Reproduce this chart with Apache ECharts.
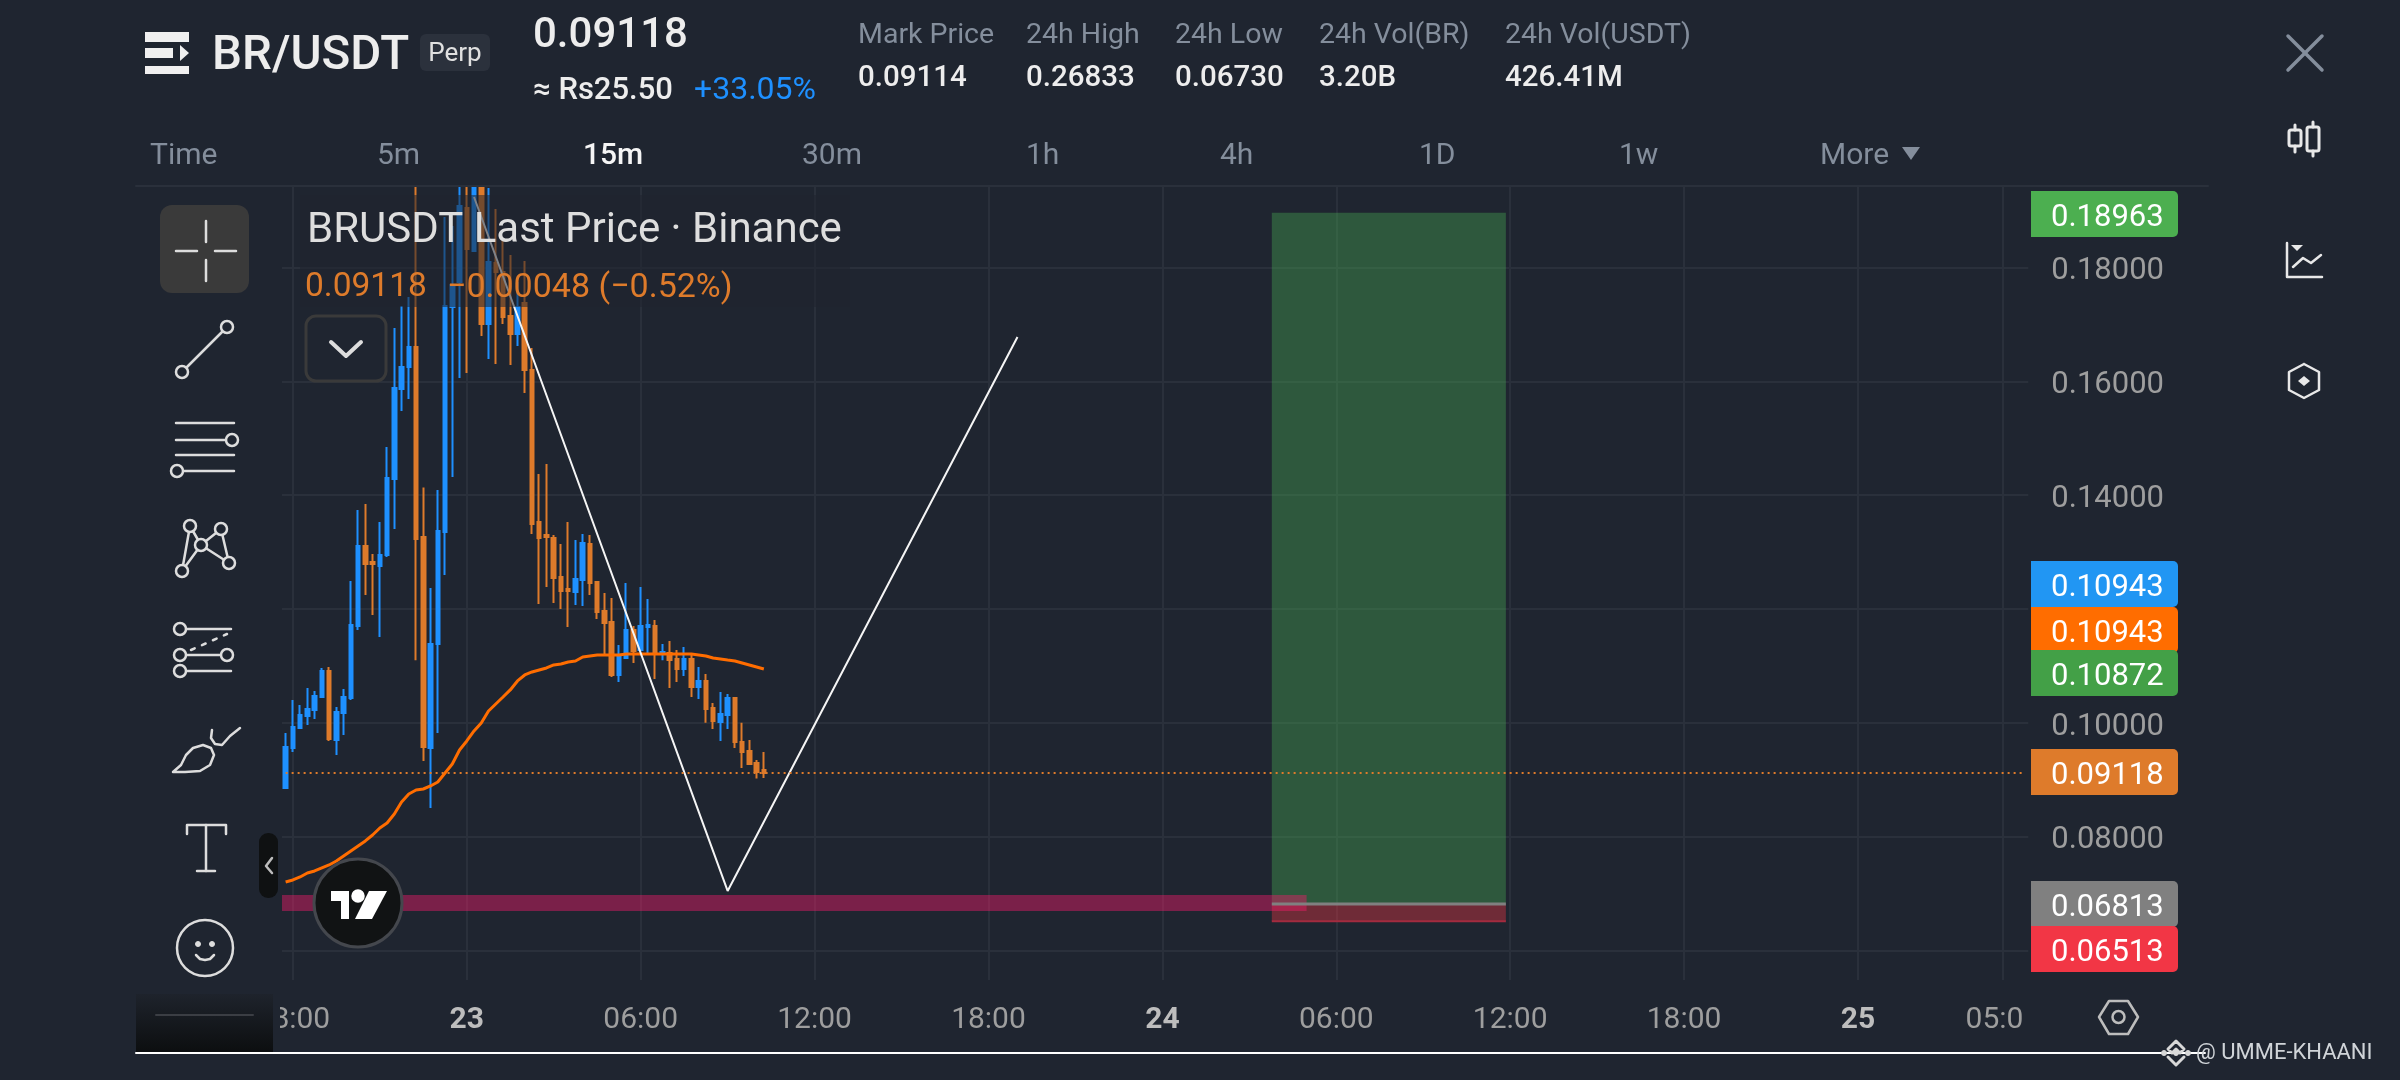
<!DOCTYPE html>
<html><head><meta charset="utf-8">
<style>html,body{margin:0;padding:0;background:#1F2530}#c{width:2400px;height:1080px}</style>
<script src="https://cdn.jsdelivr.net/npm/echarts@6/dist/echarts.min.js"></script>
</head><body><div id="c"></div>
<script>
// 15m candles, oldest first
const opens=[.08854,.09557,.09909,.10119,.10225,.10453,.10910,.09698,.10172,.10436,.11701,.13107,.12826,.12756,.12949,.14285,.15866,.16253,.16604,.13265,.09557,.11385,.13353,.17307,.17747,.19047,.18292,.205,.17009,.18081,.17923,.17149,.16833,.17378,.16200,.13529,.13301,.13248,.12563,.12351,.12299,.12510,.13142,.12474,.11965,.11771,.10840,.11139,.11631,.11279,.11684,.11701,.11209,.11226,.11121,.10945,.11121,.10629,.10734,.10260,.10014,.10137,.10436,.09663,.09504,.09294,.09170];
const closes=[.09574,.09926,.10137,.10243,.10471,.10910,.09715,.10190,.10453,.11719,.13107,.12791,.12791,.12949,.14302,.15884,.16253,.16604,.13230,.09574,.11385,.13371,.17325,.17694,.19083,.18327,.205,.17009,.18098,.17923,.17132,.16833,.17307,.16200,.13494,.13248,.13265,.12545,.12316,.12316,.12527,.13160,.12457,.11947,.11754,.10840,.11156,.11631,.11262,.11701,.11719,.11226,.11244,.11103,.10945,.11121,.10629,.10734,.10243,.10032,.10155,.10436,.09663,.09487,.09276,.09135,.09118];
const lows=[.08854,.09487,.09891,.09961,.10067,.10453,.09680,.09434,.09786,.10401,.11631,.12246,.11894,.11508,.12914,.13406,.15480,.15691,.11098,.09328,.08503,.09821,.12598,.14320,.16060,.16148,.18292,.16798,.16394,.16306,.17009,.16288,.16622,.15796,.13318,.12088,.12386,.12105,.12000,.11684,.12070,.12053,.12246,.11824,.11192,.10805,.10717,.11139,.11051,.11279,.11192,.10770,.11098,.10612,.10717,.10823,.10453,.10418,.10000,.09891,.09680,.09891,.09557,.09206,.09258,.09020,.09030];
const highs=[.09821,.10401,.10313,.10611,.10559,.10963,.10981,.10278,.10594,.12492,.13740,.13845,.12967,.13529,.14847,.16939,.17325,.17483,.205,.14133,.12369,.14091,.18889,.18731,.205,.205,.21,.21,.19399,.19030,.18485,.18221,.17747,.18116,.16587,.14372,.14548,.13301,.13142,.13529,.13213,.13318,.13301,.12474,.12281,.12193,.11367,.12457,.11701,.12386,.12176,.11807,.11385,.11437,.11279,.11332,.11192,.10981,.10858,.10348,.10541,.10506,.10453,.10000,.09698,.09346,.09487];
const maValues=[.07202,.07237,.07290,.07360,.07395,.07448,.07501,.07571,.07659,.07747,.07835,.07923,.08028,.08151,.08239,.08397,.08608,.08749,.08819,.08836,.08889,.08959,.09118,.09276,.09522,.09680,.09856,.09997,.10207,.10330,.10453,.10577,.10735,.10840,.10893,.10928,.10963,.11016,.11033,.11068,.11086,.11156,.11174,.11192,.11192,.11192,.11192,.11209,.11209,.11209,.11209,.11209,.11209,.11209,.11209,.11209,.11209,.11192,.11174,.11139,.11121,.11103,.11086,.11051,.11016,.10981,.10945];
const drawnLine=[[26.4,.19241],[60.9,.07044],[101.1,.16780]];
const lastPrice=.09118, targetPrice=.18963, entryPrice=.06813, stopPrice=.06513;
const zoneStart=136.1, zoneEnd=168.4;
const barStart=-0.5, barEnd=140.9, barTop=.06973, barBottom=.06692;
const yTicks=[.06,.08,.10,.12,.14,.16,.18];
const tickSlots=[1,25,49,73,97,121,145,169,193,217,237];
const tickLabels=['18:00','23','06:00','12:00','18:00','24','06:00','12:00','18:00','25','05:00'];
const slotCount=241;
const tagValues=['0.18963','0.10943','0.10943','0.10872','0.09118','0.06813','0.06513'];
const tagColors=['#4CAF50','#2196F3','#FF6D00','#43A047','#DE7B2B','#808080','#F23645'];
const statNames=['Mark Price','24h High','24h Low','24h Vol(BR)','24h Vol(USDT)'];
const statValues=['0.09114','0.26833','0.06730','3.20B','426.41M'];
const timeframes=['Time','5m','15m','30m','1h','4h','1D','1w','More'];
const zoneBoxes=[[zoneStart,zoneEnd,targetPrice,entryPrice],[zoneStart,zoneEnd,entryPrice,stopPrice],[barStart,barEnd,barTop,barBottom]];
const zoneEdges=[[zoneStart,zoneEnd,entryPrice],[zoneStart,zoneEnd,stopPrice]];

const categories=[];for(let i=0;i<slotCount;i++)categories.push('s'+i);
const candles=opens.map((o,i)=>[o,closes[i],lows[i],highs[i]]);
const labelAt={};tickSlots.forEach((s,i)=>labelAt[s]=tickLabels[i]);
const isTick=i=>labelAt[i]!==undefined;

const FF='Roboto';
const BG='#1F2530',ICON='#DDDDDD',GRID='#2A303B',GREY='#848E9C';
const boxColors=['rgba(76,180,85,0.36)','rgba(242,54,69,0.38)','rgba(238,28,105,0.44)'];
const edgeStyles=[{color:'#808080',w:3},{color:'#A32B3F',w:2}];
const g=[];
function T(text,x,y,size,fill,weight,z,align){g.push({type:'text',z:z||120,x:x,y:y+4,style:{text:text,fill:fill,font:(weight||400)+' '+size+'px '+FF+', sans-serif',textAlign:align||'left',textVerticalAlign:'middle',align:align||'left',verticalAlign:'middle'}});}
function R(x,y,w,h,fill,r,z,stroke,lw){g.push({type:'rect',z:z||110,shape:{x:x,y:y,width:w,height:h,r:r||0},style:{fill:fill,stroke:stroke||null,lineWidth:lw||0}});}
function P(points,stroke,lw,z,fill,dash){g.push({type:fill?'polygon':'polyline',z:z||120,shape:{points:points},style:{stroke:fill?null:(stroke||ICON),lineWidth:lw||2.5,fill:fill||null,lineDash:dash||null,lineCap:'round',lineJoin:'round'}});}
function C(cx,cy,r,stroke,lw,z,fill){g.push({type:'circle',z:z||121,shape:{cx:cx,cy:cy,r:r},style:{stroke:stroke||ICON,lineWidth:lw||2.5,fill:fill||BG}});}

// masks that clip candles, axis labels and the top rule
R(278,0,1760,185,BG,0,100);
R(136,985,144,66,BG,0,105);
R(2024,985,68,66,BG,0,105);
P([[136,186],[2208,186]],GRID,2,106);

// dimmed legend panel
R(300,195,550,112,'rgba(31,37,48,0.55)',0,90);
T('BRUSDT Last Price · Binance',307,227,42,'#DEDEDE',400);
T('0.09118',305,284,33.5,'#DE7B2B',400);
T('−0.00048 (−0.52%)',447,284,34,'#DE7B2B',400);
R(306,316,80,65,'rgba(0,0,0,0)',10,112,'#3A3A3A',3);
P([[331,342],[346,356],[361,342]],'#DDDDDD',4);

// header
R(145,32,44,10,'#F0F0F0',0,120);R(145,48,28,10,'#F0F0F0',0,120);R(145,66,44,8,'#F0F0F0',0,120);
P([[180,45],[189,53],[180,61]],null,0,120,'#F0F0F0');
T('BR/USDT',212,53,47.5,'#EDEDED',500);
R(420,34,70,37,'#2B313C',6,112);
T('Perp',455,50,26,'#E0E0E0',400,120,'center');
T('0.09118',533,32,42,'#EDEDED',500);
T('≈ Rs25.50',533,87,31,'#EDEDED',500);
T('+33.05%',694,87,32,'#1E90FF',400);
const statX=[858,1026,1175,1319,1505];
statNames.forEach((n,i)=>{T(n,statX[i],32,28.5,GREY,400);T(statValues[i],statX[i],75,29.5,'#EDEDED',500);});
const tfX=[150,377,583,802,1026,1220,1419,1619,1820];
timeframes.forEach((n,i)=>T(n,tfX[i],152,30,i===2?'#F5F5F5':GREY,i===2?500:400));
P([[1902,147],[1920,147],[1911,160]],null,0,120,GREY);

// right icons
P([[2288,36],[2322,70]],GREY,3.5);P([[2322,36],[2288,70]],GREY,3.5);
R(2289,130,12,16,'rgba(0,0,0,0)',2,120,'#E8E8E8',3);P([[2295,125],[2295,130]],'#E8E8E8',3);P([[2295,146],[2295,152]],'#E8E8E8',3);
R(2307,127,12,24,'rgba(0,0,0,0)',2,120,'#E8E8E8',3);P([[2313,122],[2313,127]],'#E8E8E8',3);P([[2313,151],[2313,156]],'#E8E8E8',3);
P([[2287,243],[2287,277],[2322,277]],'#E8E8E8',2.5);P([[2293,267],[2303,258],[2311,263],[2321,255]],'#E8E8E8',2.5);
P([[2291,245],[2303,245],[2297,251]],null,0,120,'#E8E8E8');
P([[2304,364],[2319,372],[2319,390],[2304,398],[2289,390],[2289,372],[2304,364]],'#E8E8E8',2.5);
P([[2304,376],[2310,381],[2304,386],[2298,381]],null,0,120,'#E8E8E8');
P([[2099,1017],[2109,1001],[2128,1001],[2138,1017],[2128,1034],[2109,1034],[2099,1017]],'#BDBDBD',2.5);
C(2118.5,1017,6,'#BDBDBD',2.5);

// left toolbar
R(160,205,89,88,'#3A3A3A',12,112);
P([[176,251],[197,251]]);P([[215,251],[236,251]]);P([[206,221],[206,242]]);P([[206,260],[206,281]]);
P([[182,372],[227,327]]);C(182,372,6);C(227,327,6);
P([[176,423],[234,423]]);P([[176,440],[232,440]]);P([[176,455],[234,455]]);P([[177,471],[234,471]]);C(232,440,6);C(177,471,6);
P([[182,571],[190,526]]);P([[190,526],[201,545]]);P([[201,545],[221,529]]);P([[221,529],[229,563]]);P([[201,545],[229,563]]);P([[182,571],[201,545]]);
C(190,526,6);C(221,529,6);C(201,545,6);C(182,571,6);C(229,563,6);
P([[180,629],[231,629]]);P([[180,655],[227,655]]);P([[180,671],[231,671]]);P([[191,650],[227,634]],ICON,2.5,120,null,[4,8]);
C(180,629,6);C(180,655,6);C(227,655,6);C(180,671,6);
P([[173,772],[181,765],[186,755],[193,748],[203,745],[211,748],[214,755],[210,765],[200,771],[185,772],[173,772]]);
P([[212,730],[211,738],[215,744],[222,745],[230,736],[240,728]]);
P([[187,834],[187,825],[226,825],[226,834]]);P([[206,825],[206,871]]);P([[197,871],[215,871]]);
C(205,948,28);C(198,944,2.5,ICON,1,122,ICON);C(212,944,2.5,ICON,1,122,ICON);
P([[196,955],[200,959],[205,960],[210,959],[214,955]],ICON,2.5,123);
R(259,833,19,65,'#0F1112',9,112);P([[272,858],[266,866],[272,873]],'#BDBDBD',2.5);

// TradingView badge
C(358,903,44,'#44474D',3,115,'#111314');
R(331,891,18,10,'#FFFFFF',0,120);R(341,891,8,28,'#FFFFFF',0,120);C(358,896,5.5,'#FFFFFF',0,121,'#FFFFFF');
P([[369,891],[387,891],[372,919],[355,919]],null,0,120,'#FFFFFF');

// bottom strip
g.push({type:'rect',z:110,shape:{x:136,y:994,width:137,height:59},style:{fill:new echarts.graphic.LinearGradient(0,0,0,1,[{offset:0,color:'#1E232C'},{offset:1,color:'#0C0E0F'}])}});
P([[156,1015],[253,1015]],'#3B3E44',2,112);
P([[136,1053],[2205,1053]],'#FFFFFF',2,118);
P([[2176,1041],[2184,1049],[2180,1053],[2176,1049],[2172,1053],[2168,1049],[2176,1041]],'#D8D8D8',3,122);
P([[2168,1057],[2176,1065],[2184,1057]],'#D8D8D8',3,122);
C(2176,1053,2.5,'#D8D8D8',1,122,'#D8D8D8');C(2164,1053,2.5,'#D8D8D8',1,122,'#D8D8D8');C(2188,1053,2.5,'#D8D8D8',1,122,'#D8D8D8');
T('@ UMME-KHAANI',2196,1049,22,'#D0D4D8',400,122);

// price tags
const tagY=[214,584,630,673,772,904,949];
tagValues.forEach((v,i)=>{g.push({type:'rect',z:115,shape:{x:2031,y:tagY[i]-23,width:147,height:46,r:[0,5,5,0]},style:{fill:tagColors[i]}});T(v,2051,tagY[i],31,'#FFFFFF',400,125);});

function xAt(api,x,v){const f=Math.floor(x);const p=api.coord([f,v]);return [p[0]+(x-f)*api.size([1,0])[0],p[1]];}

const chart=echarts.init(document.getElementById('c'),null,{width:2400,height:1080});
chart.setOption({
 animation:false,backgroundColor:BG,
 grid:{left:282,top:186,width:1746.3,height:794,containLabel:false},
 xAxis:{type:'category',data:categories,boundaryGap:true,
  axisLine:{show:false},
  axisTick:{show:false,alignWithLabel:true,interval:i=>isTick(i)},
  splitLine:{show:true,alignWithLabel:true,interval:i=>isTick(i),lineStyle:{color:GRID,width:2}},
  axisLabel:{margin:25,interval:i=>isTick(i),color:'#9E9E9E',fontFamily:FF,fontSize:30,hideOverlap:false,
   formatter:(v,i)=>{const s=labelAt[i];return s&&s.length===2?'{d|'+s+'}':(s||'');},
   rich:{d:{fontFamily:FF,fontSize:30,fontWeight:700,color:'#BDBDBD'}}}
 },
 yAxis:{type:'value',position:'right',min:.05479,max:.19434,scale:true,
  axisLine:{show:false},
  axisTick:{show:false,customValues:yTicks},
  splitLine:{show:true,lineStyle:{color:GRID,width:2}},
  axisLabel:{customValues:yTicks,margin:23,color:'#9E9E9E',fontFamily:FF,fontSize:31,
   formatter:v=>'{p|'+v.toFixed(5)+'}',
   rich:{p:{color:'#9E9E9E',fontFamily:FF,fontSize:31,lineHeight:36,padding:[8,0,0,0]}}}
 },
 series:[
  {type:'custom',name:'zones',z:1,data:zoneBoxes.map((b,i)=>[i,b[2]]),encode:{x:0,y:1},
   renderItem:function(params,api){
    const b=zoneBoxes[params.dataIndex];
    const a=xAt(api,b[0],b[2]),c=xAt(api,b[1],b[3]);
    const kids=[{type:'rect',shape:{x:a[0],y:a[1],width:c[0]-a[0],height:c[1]-a[1]},style:{fill:boxColors[params.dataIndex]}}];
    if(params.dataIndex===2){zoneEdges.forEach((e,j)=>{const p=xAt(api,e[0],e[2]),q=xAt(api,e[1],e[2]);
      kids.push({type:'rect',z2:5,shape:{x:p[0],y:p[1]-edgeStyles[j].w/2,width:q[0]-p[0],height:edgeStyles[j].w},style:{fill:edgeStyles[j].color}});});}
    return {type:'group',children:kids};
   }},
  {type:'candlestick',name:'BRUSDT',data:candles,barWidth:4,z:2,clip:true,
   itemStyle:{color:'#1E90FF',color0:'#DE7B2B',borderColor:'#1E90FF',borderColor0:'#DE7B2B',borderColorDoji:'#DE7B2B',borderWidth:2}
  },
  {type:'line',name:'MA',data:maValues,symbol:'none',z:3,lineStyle:{color:'#FF6D00',width:3},
   markLine:{silent:true,symbol:'none',label:{show:false},lineStyle:{color:'#DE7B2B',type:[2,4],width:2},
    data:[[{coord:[0,lastPrice]},{coord:[240,lastPrice]}]]}
  },
  {type:'line',name:'drawing',data:drawnLine,symbol:'none',z:4,lineStyle:{color:'#F5F5F5',width:2}}
 ],
 graphic:{elements:g}
});
</script></body></html>
